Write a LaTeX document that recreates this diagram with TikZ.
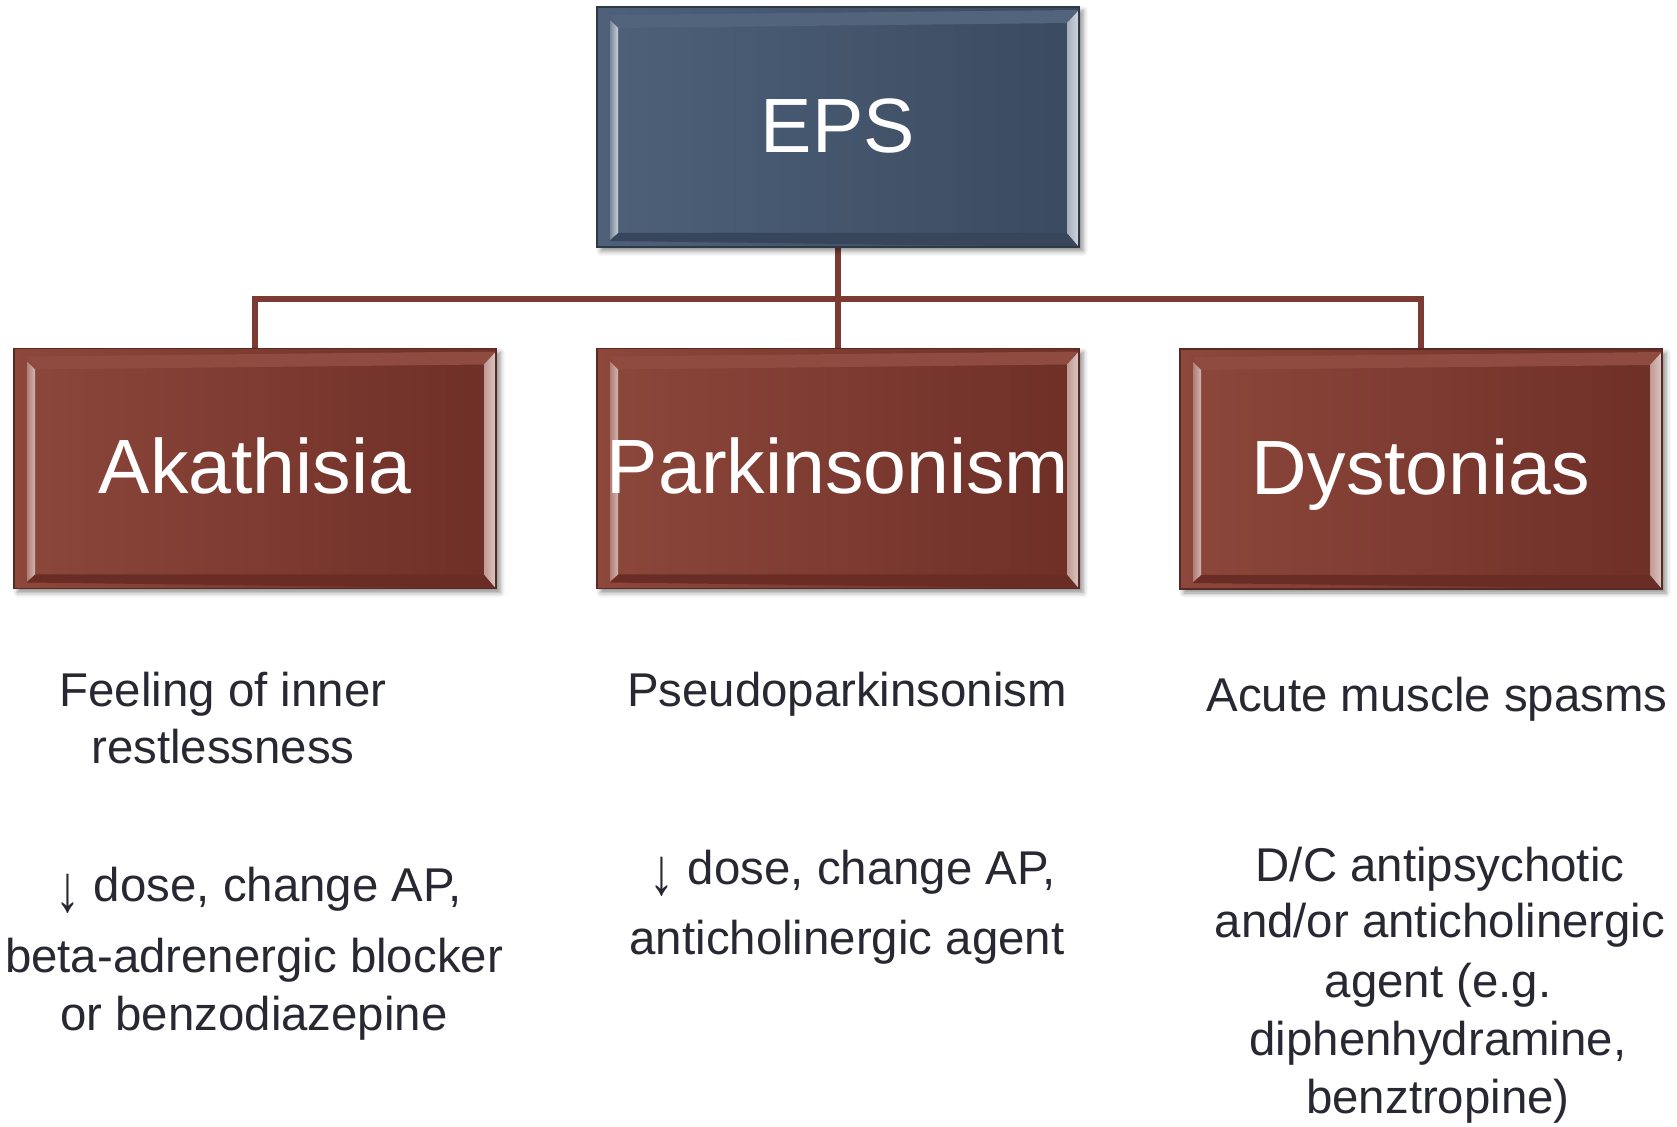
\documentclass[tikz,border=0pt]{standalone}
\usepackage{fontspec}
\setmainfont{Liberation Sans}
\usetikzlibrary{calc,backgrounds,shadows.blur}

\definecolor{txt}{RGB}{40,40,50}
\definecolor{conn}{RGB}{123,59,51}
\definecolor{bl}{RGB}{78,97,121}
\definecolor{br}{RGB}{58,74,96}
\definecolor{rl}{RGB}{141,71,59}
\definecolor{rr}{RGB}{110,47,39}

% #1 left outer, #2 left inner, #3 right inner, #4 right outer, #5 top, #6 bottom
\newcommand\mybevel[6]{%
  \coordinate (bb) at (path picture bounding box.north west);
  \fill[#5] ($(bb)+(6.5pt,-4pt)$) -- ($(bb)+(241pt,-1.5pt)$) -- ($(bb)+(235pt,-8pt)$) -- ($(bb)+(10.5pt,-10.5pt)$) -- cycle;
  \fill[#6] ($(bb)+(6.5pt,-117pt)$) -- ($(bb)+(241pt,-120pt)$) -- ($(bb)+(235pt,-113pt)$) -- ($(bb)+(10.5pt,-113pt)$) -- cycle;
  \shade[left color=#1,right color=#2] ($(bb)+(6.5pt,-6.5pt)$) -- ($(bb)+(10.5pt,-10.5pt)$) -- ($(bb)+(10.5pt,-113pt)$) -- ($(bb)+(6.5pt,-116.5pt)$) -- cycle;
  \shade[left color=#3,right color=#4] ($(bb)+(235pt,-8pt)$) -- ($(bb)+(241pt,-1.5pt)$) -- ($(bb)+(241pt,-120pt)$) -- ($(bb)+(235pt,-113pt)$) -- cycle;
}

\newcommand\dn{\raisebox{-5pt}{\scalebox{1.05}[1.4]{↓}}}

\tikzset{
  hdr/.style={minimum width=241pt, minimum height=120pt, inner sep=0pt,
    font=\fontsize{38.5pt}{40pt}\selectfont, text=white,
    text height=27.7pt, text depth=2.3pt,
    blur shadow={shadow xshift=2pt, shadow yshift=-2pt, shadow blur radius=2.5pt, shadow opacity=45}},
  bluebox/.style={hdr, left color=bl, right color=br, draw=bl!60!black, line width=0.6pt,
    path picture={\mybevel{bl!75!white}{bl!30!white}{bl!50!white}{bl!25!white}{bl!98!white}{br!95!black}}},
  redbox/.style={hdr, left color=rl, right color=rr, draw=rl!60!black, line width=0.6pt,
    path picture={\mybevel{rl!70!white}{rl!40!white}{rl!55!white}{rl!30!white}{rl!98!white}{rr!95!black}}},
  lbl/.style={font=\fontsize{23.7pt}{28pt}\selectfont, text=txt, inner sep=0pt, anchor=base},
  cline/.style={draw=conn, line width=2.6pt}
}

\begin{document}
\begin{tikzpicture}[x=0.5pt, y=-0.5pt]
\useasboundingbox (0,0) rectangle (1677,1127);

\node[bluebox] (eps) at (838,127) {EPS};
\node[redbox] (aka) at (255,468.5) {Akathisia};
\node[redbox] (par) at (838,468.5) {Parkinsonism};
\node[redbox] (dys) at (1421,469) {Dystonias};

\coordinate (j) at (838,299);
\begin{pgfonlayer}{background}
  \draw[cline] (eps.south) -- (par.north);
  \draw[cline] (aka.north) |- (j) -| (dys.north);
\end{pgfonlayer}

% left column
\node[lbl] (l1) at (223,707) {Feeling of inner};
\node[lbl] (l2) at (223,764) {restlessness};
\node[lbl] (l3) at (259,902) {\dn{} dose, change AP,};
\node[lbl] (l4) at (254,972) {beta-adrenergic blocker};
\node[lbl] (l5) at (254,1030) {or benzodiazepine};

% middle column
\node[lbl] (m1) at (847,707) {Pseudoparkinsonism};
\node[lbl] (m2) at (853,885) {\dn{} dose, change AP,};
\node[lbl] (m3) at (847,955) {anticholinergic agent};

% right column
\node[lbl] (r1) at (1437,712) {Acute muscle spasms};
\node[lbl] (r2) at (1440,882) {D/C antipsychotic};
\node[lbl] (r3) at (1440,938) {and/or anticholinergic};
\node[lbl] (r4) at (1438,998) {agent (e.g.};
\node[lbl] (r5) at (1438,1055) {diphenhydramine,};
\node[lbl] (r6) at (1438,1113) {benztropine)};
\end{tikzpicture}
\end{document}
